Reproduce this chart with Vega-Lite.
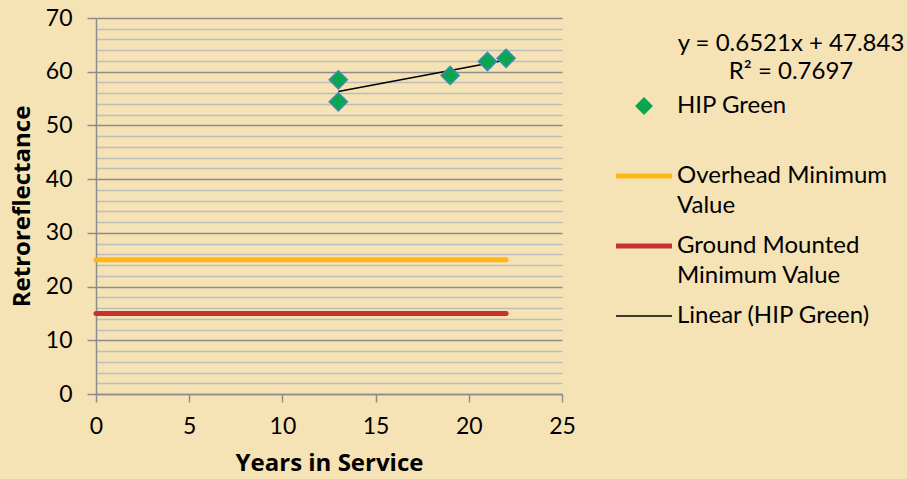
{
  "$schema": "https://vega.github.io/schema/vega-lite/v6.json",
  "width": 466,
  "height": 376,
  "autosize": "none",
  "padding": {"left": 96, "top": 18, "right": 345, "bottom": 85},
  "background": "#F5E3B6",
  "config": {
    "view": {"stroke": null},
    "font": "Lato",
    "axis": {"labelFont": "Lato", "titleFont": "Open Sans", "labelColor": "#000000", "titleColor": "#000000"},
    "legend": {"labelFont": "Lato", "titleFont": "Lato"}
  },
  "data": {
    "values": [
      {"series": "HIP Green", "years": 13, "value": 58.5},
      {"series": "HIP Green", "years": 13, "value": 54.4},
      {"series": "HIP Green", "years": 19, "value": 59.3},
      {"series": "HIP Green", "years": 21, "value": 61.9},
      {"series": "HIP Green", "years": 22, "value": 62.5},
      {"series": "Overhead Minimum Value", "years": 0, "value": 25},
      {"series": "Overhead Minimum Value", "years": 22, "value": 25},
      {"series": "Ground Mounted Minimum Value", "years": 0, "value": 15},
      {"series": "Ground Mounted Minimum Value", "years": 22, "value": 15}
    ]
  },
  "encoding": {
    "x": {
      "field": "years", "type": "quantitative",
      "scale": {"domain": [0, 25], "nice": false},
      "axis": {
        "title": "Years in Service", "values": [0, 5, 10, 15, 20, 25], "grid": false, "labelFlush": false,
        "domainColor": "#8C8C8C", "domainWidth": 1.5, "tickColor": "#8C8C8C", "tickWidth": 1.5, "tickSize": 8,
        "labelFontSize": 23, "labelPadding": 13, "titleFontSize": 24, "titleFontWeight": "bold", "titlePadding": 13
      }
    },
    "y": {
      "field": "value", "type": "quantitative",
      "scale": {"domain": [0, 70], "nice": false},
      "axis": {
        "title": "Retroreflectance",
        "values": [0, 2, 4, 6, 8, 10, 12, 14, 16, 18, 20, 22, 24, 26, 28, 30, 32, 34, 36, 38, 40, 42, 44, 46, 48, 50, 52, 54, 56, 58, 60, 62, 64, 66, 68, 70],
        "labelExpr": "datum.value % 10 === 0 ? datum.label : ''",
        "labelOverlap": false,
        "grid": true,
        "gridColor": {"condition": {"test": "datum.value % 10 === 0", "value": "#8C8C8C"}, "value": "#BDBDBD"},
        "gridWidth": 1.5,
        "tickOpacity": {"condition": {"test": "datum.value % 10 === 0", "value": 1}, "value": 0},
        "domainColor": "#8C8C8C", "domainWidth": 1.5, "tickColor": "#8C8C8C", "tickWidth": 1.5, "tickSize": 9,
        "labelFontSize": 23, "labelPadding": 15, "titleFontSize": 24, "titleFontWeight": "bold", "titlePadding": 11
      }
    },
    "color": {
      "field": "series", "type": "nominal",
      "scale": {
        "domain": ["HIP Green", "Overhead Minimum Value", "Ground Mounted Minimum Value", "Linear (HIP Green)"],
        "range": ["#0AA64F", "#FDB813", "#C8302F", "#000000"]
      },
      "legend": {
        "orient": "none", "legendX": 536, "legendY": 14, "padding": 0,
        "title": ["y = 0.6521x + 47.843", "R² = 0.7697"],
        "titleFontSize": 24, "titleFontWeight": "normal", "titleColor": "#000000", "titleLimit": 500,
        "titleAnchor": "start", "titleAlign": "center", "titleLineHeight": 28, "titlePadding": 10,
        "labelFontSize": 24, "labelColor": "#000000", "labelLimit": 400, "labelOffset": 21,
        "labelExpr": "datum.value === 'Overhead Minimum Value' ? ['Overhead Minimum', 'Value'] : datum.value === 'Ground Mounted Minimum Value' ? ['Ground Mounted', 'Minimum Value'] : datum.value === 'HIP Green' ? ['HIP Green', ' '] : datum.value",
        "symbolSize": 3136, "rowPadding": 16,
        "encode": {
          "title": {"update": {"dx": {"value": 159}}},
          "labels": {"update": {"lineHeight": {"value": 30}}},
          "symbols": {"update": {
            "shape": {"signal": "datum.value === 'HIP Green' ? 'diamond' : 'stroke'"},
            "size": {"signal": "datum.value === 'HIP Green' ? 250 : 3136"},
            "fill": {"signal": "datum.value === 'HIP Green' ? '#0AA64F' : 'transparent'"},
            "stroke": {"signal": "datum.value === 'HIP Green' ? '#3D8CB4' : datum.value === 'Overhead Minimum Value' ? '#FDB813' : datum.value === 'Ground Mounted Minimum Value' ? '#C8302F' : '#000000'"},
            "strokeWidth": {"signal": "datum.value === 'HIP Green' ? 1.5 : datum.value === 'Linear (HIP Green)' ? 1.3 : 5"},
            "opacity": {"value": 1}
          }}
        }
      }
    }
  },
  "layer": [
    {
      "transform": [{"filter": "datum.series !== 'HIP Green'"}],
      "mark": {"type": "line", "strokeWidth": 5, "strokeCap": "round"}
    },
    {
      "transform": [{"filter": "datum.series === 'HIP Green'"}, {"regression": "value", "on": "years"}],
      "mark": {"type": "line", "strokeWidth": 1.5},
      "encoding": {"color": {"datum": "Linear (HIP Green)"}}
    },
    {
      "transform": [{"filter": "datum.series === 'HIP Green'"}],
      "mark": {"type": "point", "shape": "diamond", "filled": true, "size": 330, "stroke": "#3D8CB4", "strokeWidth": 1.5, "opacity": 1}
    }
  ]
}
